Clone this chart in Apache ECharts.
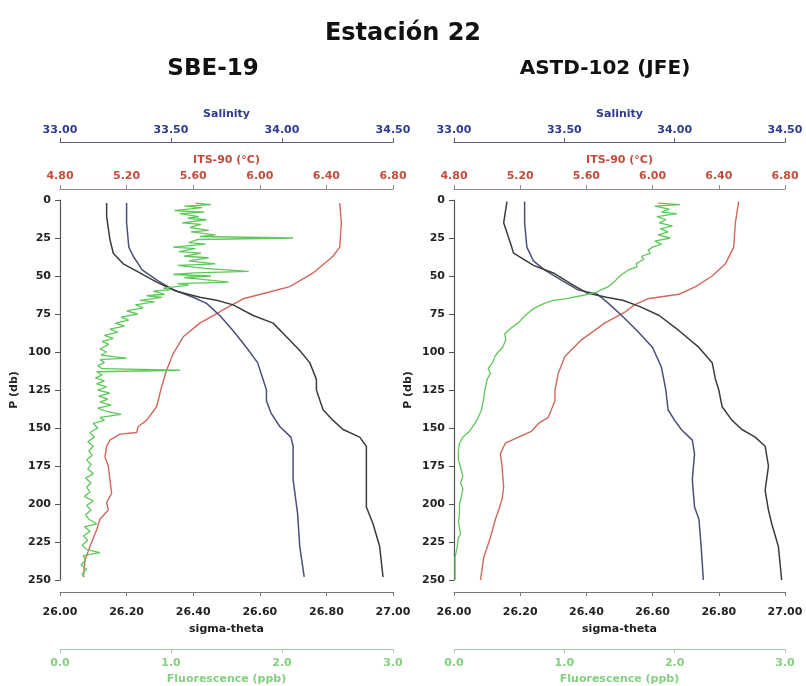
<!DOCTYPE html>
<html>
<head>
<meta charset="utf-8">
<script src="https://cdn.jsdelivr.net/npm/echarts@6/dist/echarts.min.js"></script>
<style>
  html, body { margin: 0; padding: 0; background: #fff; }
  #chart { width: 806px; height: 686px; }
</style>
</head>
<body>
<div id="chart"></div>
<script>
// profiles as [value, pressure (db)]
const sbeTemp = [[6.48,2],[6.49,15],[6.48,31],[6.44,37],[6.32,48],[6.18,57],[6.04,61],[5.90,65],[5.80,71],[5.72,76],[5.64,81],[5.54,90],[5.48,101],[5.44,112],[5.41,123],[5.38,136],[5.32,145],[5.27,149],[5.26,153],[5.16,154],[5.10,158],[5.08,162],[5.07,169],[5.09,175],[5.10,184],[5.11,193],[5.08,199],[5.09,204],[5.04,210],[5.02,217],[4.98,228],[4.95,237],[4.94,248]]
const sbeSal = [[33.30,2],[33.30,15],[33.31,31],[33.33,37],[33.37,46],[33.44,53],[33.51,59],[33.60,64],[33.66,68],[33.72,76],[33.78,86],[33.84,97],[33.89,107],[33.91,116],[33.93,125],[33.93,132],[33.95,140],[33.99,149],[34.04,156],[34.05,162],[34.05,184],[34.07,206],[34.08,228],[34.10,248]]
const sbeSigma = [[26.14,2],[26.14,11],[26.15,26],[26.16,35],[26.19,42],[26.24,48],[26.29,54],[26.35,60],[26.42,64],[26.47,66],[26.52,69],[26.58,76],[26.64,81],[26.68,90],[26.72,99],[26.75,107],[26.77,118],[26.77,125],[26.79,138],[26.82,145],[26.85,151],[26.90,156],[26.92,162],[26.92,184],[26.92,202],[26.94,213],[26.96,228],[26.97,248]]
const sbeFluo = [[1.22,2],[1.36,3],[1.12,4],[1.28,5],[1.03,7],[1.30,8],[1.08,9],[1.25,11],[1.15,12],[1.32,13],[1.10,15],[1.27,16],[1.17,18],[1.34,20],[1.18,21],[1.40,23],[1.26,24],[2.10,25],[1.24,26],[1.16,28],[1.31,29],[1.02,31],[1.22,32],[1.07,34],[1.27,35],[1.12,37],[1.34,38],[1.16,40],[1.40,42],[1.06,43],[1.30,45],[1.70,47],[1.21,48],[1.02,49],[1.36,50],[1.12,51],[1.26,52],[1.52,54],[1.06,55],[1.16,56],[0.93,58],[1.00,59],[0.84,60],[0.94,62],[0.78,63],[0.92,64],[0.72,66],[0.85,67],[0.68,69],[0.75,71],[0.60,73],[0.70,75],[0.55,77],[0.62,79],[0.50,81],[0.58,83],[0.45,85],[0.52,87],[0.40,89],[0.48,91],[0.38,93],[0.44,95],[0.36,98],[0.42,100],[0.37,102],[0.60,104],[0.36,105],[0.40,107],[0.34,109],[0.38,111],[1.08,112],[0.33,113],[0.38,115],[0.32,117],[0.40,119],[0.33,121],[0.42,123],[0.34,125],[0.45,127],[0.35,129],[0.43,131],[0.36,133],[0.46,135],[0.34,137],[0.42,139],[0.55,141],[0.36,143],[0.40,145],[0.30,147],[0.34,150],[0.27,153],[0.31,156],[0.25,159],[0.30,162],[0.26,165],[0.29,168],[0.24,171],[0.28,174],[0.25,177],[0.30,180],[0.23,183],[0.28,186],[0.24,189],[0.27,192],[0.22,195],[0.30,198],[0.24,201],[0.28,204],[0.23,207],[0.26,210],[0.33,213],[0.22,215],[0.27,218],[0.21,221],[0.25,224],[0.20,227],[0.24,230],[0.36,232],[0.21,234],[0.23,237],[0.19,240],[0.24,243],[0.20,246],[0.22,248]]

const astdTemp = [[6.52,1],[6.50,15],[6.49,31],[6.44,42],[6.36,50],[6.26,57],[6.16,62],[5.97,65],[5.89,69],[5.83,74],[5.71,81],[5.57,92],[5.47,103],[5.43,114],[5.41,125],[5.41,132],[5.37,143],[5.31,147],[5.27,152],[5.19,156],[5.11,160],[5.08,167],[5.09,175],[5.10,189],[5.09,197],[5.07,204],[5.05,210],[5.02,222],[4.98,235],[4.96,250]]
const astdSal = [[33.32,1],[33.32,15],[33.33,31],[33.36,40],[33.41,46],[33.49,53],[33.56,59],[33.65,62],[33.70,68],[33.76,76],[33.83,86],[33.90,97],[33.94,110],[33.96,125],[33.97,138],[34.00,145],[34.03,151],[34.08,158],[34.09,167],[34.08,184],[34.09,202],[34.11,210],[34.12,228],[34.13,250]]
const astdSigma = [[26.16,1],[26.15,15],[26.17,28],[26.18,35],[26.24,43],[26.30,48],[26.36,56],[26.40,61],[26.46,64],[26.51,66],[26.56,70],[26.62,76],[26.68,86],[26.74,97],[26.78,107],[26.79,118],[26.80,125],[26.81,136],[26.84,145],[26.87,151],[26.91,156],[26.94,162],[26.95,175],[26.94,191],[26.95,204],[26.96,213],[26.98,228],[26.99,250]]
const astdFluo = [[1.85,2],[2.05,3],[1.82,4],[1.95,6],[1.88,8],[2.02,9],[1.84,11],[1.92,13],[1.86,15],[1.98,17],[1.87,19],[1.94,21],[1.85,23],[1.96,25],[1.82,27],[1.88,29],[1.80,31],[1.76,33],[1.78,35],[1.70,37],[1.72,39],[1.65,42],[1.66,44],[1.58,46],[1.52,49],[1.49,51],[1.45,54],[1.40,57],[1.34,59],[1.28,61],[1.15,63],[1.01,65],[0.90,66],[0.82,68],[0.76,70],[0.71,72],[0.66,75],[0.62,78],[0.58,81],[0.52,84],[0.46,88],[0.47,92],[0.44,97],[0.40,100],[0.37,103],[0.35,107],[0.31,111],[0.33,114],[0.30,118],[0.28,125],[0.27,130],[0.25,138],[0.22,143],[0.19,147],[0.15,151],[0.13,153],[0.08,156],[0.05,160],[0.04,165],[0.04,171],[0.06,176],[0.08,182],[0.06,186],[0.08,190],[0.07,194],[0.05,200],[0.05,206],[0.04,212],[0.06,220],[0.04,222],[0.03,228],[0.01,235],[0.01,242],[0.01,250]]

const panelTitles = ['SBE-19', 'ASTD-102 (JFE)']
const salRange = [33.0, 34.5, 0.5]
const tempRange = [4.8, 6.8, 0.4]
const sigmaRange = [26.0, 27.0, 0.2]
const fluoRange = [0, 3, 1]
const presRange = [0, 250, 25]

const FONT = 'DejaVu Sans'
const chart = echarts.init(document.getElementById('chart'))

function xAxis(grid, range, pos, offset, name, color, lineColor, digits, margin, nameGap) {
  return {
    type: 'value', gridIndex: grid, position: pos, offset,
    min: range[0], max: range[1], interval: range[2],
    name, nameLocation: 'middle', nameGap,
    nameTextStyle: { color, fontFamily: FONT, fontWeight: 'bold', fontSize: 11 },
    axisLine: { show: true, onZero: false, lineStyle: { color: lineColor, width: 1.2 } },
    axisTick: { show: true, length: 4, lineStyle: { color: lineColor } },
    axisLabel: { color, fontFamily: FONT, fontWeight: 'bold', fontSize: 11, margin,
      formatter: (v) => v.toFixed(digits) },
    splitLine: { show: false },
  }
}

// fixed boxes: 0..250 db from y=200 to y=580; no auto shrinking for the outer axes
const grids = [
  { left: 60, width: 333, top: 200, height: 380, outerBoundsMode: 'none' },
  { left: 454, width: 331, top: 200, height: 380, outerBoundsMode: 'none' },
]

const xAxes = []
const yAxes = []
grids.forEach((g, i) => {
  xAxes.push(xAxis(i, salRange, 'top', 58, 'Salinity', '#2e3a8f', '#5a5e70', 2, 6, 22))
  xAxes.push(xAxis(i, tempRange, 'top', 11, 'ITS-90 (°C)', '#c64b3c', '#9a8585', 2, 7, 22))
  xAxes.push(xAxis(i, sigmaRange, 'bottom', 12, 'sigma-theta', '#222222', '#777777', 2, 15, 32))
  xAxes.push(xAxis(i, fluoRange, 'bottom', 69, 'Fluorescence (ppb)', '#86cf82', '#b2c9b2', 1, 9, 25))
  yAxes.push({
    type: 'value', gridIndex: i, inverse: true,
    min: presRange[0], max: presRange[1], interval: presRange[2],
    name: 'P (db)', nameLocation: 'middle', nameGap: 40, nameRotate: 90,
    nameTextStyle: { color: '#222', fontFamily: FONT, fontWeight: 'bold', fontSize: 11 },
    axisLine: { show: true, onZero: false, lineStyle: { color: '#555', width: 1.2 } },
    axisTick: { show: true, length: 5, lineStyle: { color: '#555' } },
    axisLabel: { color: '#222', fontFamily: FONT, fontWeight: 'bold', fontSize: 11, margin: 9 },
    splitLine: { show: false },
  })
})

function profile(data, grid, axisOffset, color, width) {
  return {
    type: 'line', data, xAxisIndex: grid * 4 + axisOffset, yAxisIndex: grid,
    showSymbol: false, symbol: 'none', silent: true,
    lineStyle: { color, width },
  }
}

const panels = [
  [sbeTemp, sbeSal, sbeSigma, sbeFluo],
  [astdTemp, astdSal, astdSigma, astdFluo],
]
const series = []
panels.forEach((p, i) => {
  series.push(profile(p[0], i, 1, '#d2685c', 1.4))
  series.push(profile(p[1], i, 0, '#4b5078', 1.5))
  series.push(profile(p[2], i, 2, '#3c3c3c', 1.5))
  series.push(profile(p[3], i, 3, '#5ec85a', 1.3))
})

chart.setOption({
  animation: false,
  backgroundColor: '#ffffff',
  title: [
    { text: 'Estación 22', left: 403, top: 22, textAlign: 'center', padding: 0,
      textStyle: { fontFamily: FONT, fontWeight: 'bold', fontSize: 24, color: '#111' } },
    { text: panelTitles[0], left: 213, top: 58, textAlign: 'center', padding: 0,
      textStyle: { fontFamily: FONT, fontWeight: 'bold', fontSize: 23, color: '#111' } },
    { text: panelTitles[1], left: 605, top: 59, textAlign: 'center', padding: 0,
      textStyle: { fontFamily: FONT, fontWeight: 'bold', fontSize: 20, color: '#111' } },
  ],
  grid: grids,
  xAxis: xAxes,
  yAxis: yAxes,
  series,
})
</script>
</body>
</html>
